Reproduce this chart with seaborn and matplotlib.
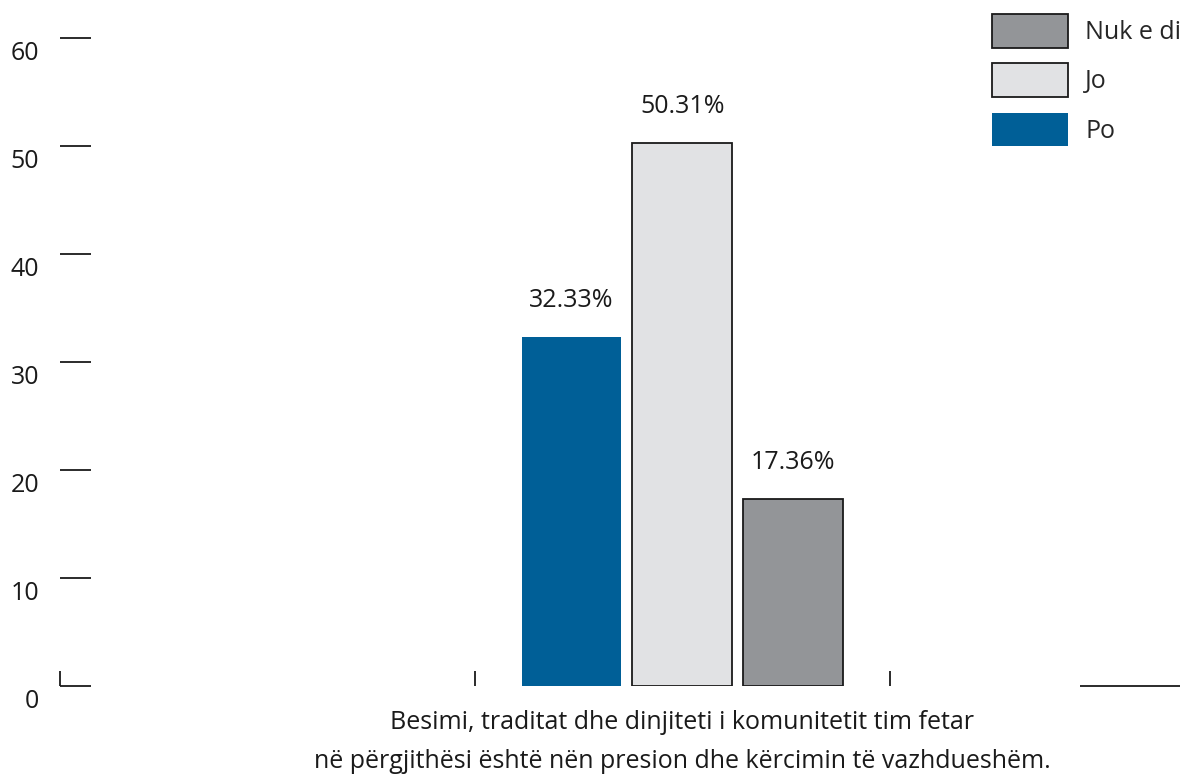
import pandas as pd
import numpy as np
import matplotlib
matplotlib.use('Agg')
import matplotlib.pyplot as plt
import matplotlib.transforms as mtransforms
import seaborn as sns

# data
question = 'Besimi, traditat dhe dinjiteti i komunitetit tim fetar\nnë përgjithësi është nën presion dhe kërcimin të vazhdueshëm.'
answers = ['Po', 'Jo', 'Nuk e di']
shares = [32.33, 50.31, 17.36]
yticks = [0, 10, 20, 30, 40, 50, 60]

colors = {'Po': '#005F97', 'Jo': '#E1E2E4', 'Nuk e di': '#939598'}

df = pd.DataFrame({'question': [question] * len(answers), 'answer': answers, 'share': shares})

sns.set_style('white')
plt.rcParams['font.family'] = ['Open Sans', 'DejaVu Sans']
fs = 18

fig = plt.figure(figsize=(11.84, 7.76), dpi=100)
ax = fig.add_axes([60 / 1184, 90 / 776, 1120 / 1184, 648 / 776])

sns.barplot(data=df, x='question', y='share', hue='answer', hue_order=answers,
            palette=colors, saturation=1, gap=0.1, width=0.8, ax=ax, legend=False)

# edges: blue bar has none, grey bars have a dark outline
for patch, ans in zip(ax.patches, answers):
    if ans == 'Po':
        patch.set_edgecolor('none')
    else:
        patch.set_edgecolor('#1a1a1a')
        patch.set_linewidth(1.3)

for cont in ax.containers:
    ax.bar_label(cont, fmt='%.2f%%', padding=17, fontsize=fs, color='#1a1a1a')

ax.set_xlim(-1.5, 1.2)
ax.set_ylim(0, 60)
for s in ax.spines.values():
    s.set_visible(False)

ax.set_yticks(yticks)
ax.tick_params(axis='y', left=True, direction='in', length=22, width=1.3, color='#1a1a1a',
               pad=15, labelsize=fs, labelcolor='#1a1a1a')
offset = mtransforms.ScaledTranslation(0, -13 / 100, fig.dpi_scale_trans)
for lab in ax.get_yticklabels():
    lab.set_transform(lab.get_transform() + offset)

ax.set_xticks([0])
ax.set_xticklabels([question], fontsize=fs, color='#1a1a1a', linespacing=1.75)
ax.tick_params(axis='x', which='major', bottom=True, length=0, pad=17)
ax.set_xticks([-1.5, -0.5, 0.5], minor=True)
ax.tick_params(axis='x', which='minor', bottom=True, direction='in', length=11, width=1.3, color='#1a1a1a')
ax.hlines(0, 0.96, 1.2, color='#1a1a1a', lw=1.3, clip_on=False)
ax.set_xlabel('')
ax.set_ylabel('')

# legend, reversed order, top right
handles = []
for ans in answers[::-1]:
    ec = 'none' if ans == 'Po' else '#1a1a1a'
    handles.append(plt.Rectangle((0, 0), 1, 1, facecolor=colors[ans], edgecolor=ec, linewidth=1.3))
fig.legend(handles, answers[::-1], loc='upper left', bbox_to_anchor=(982 / 1184, 1 - 4 / 776),
           frameon=False, fontsize=fs, handlelength=3.04, handleheight=1.7,
           labelspacing=0.62, handletextpad=0.68, borderaxespad=0)

fig.savefig('out.png', dpi=100)
